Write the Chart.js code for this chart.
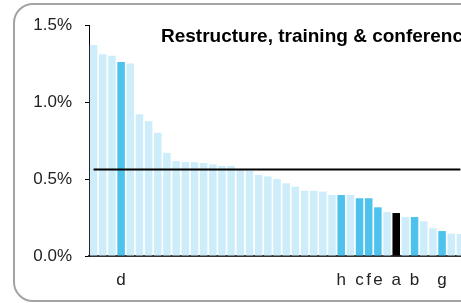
<!DOCTYPE html>
<html>
<head>
<meta charset="utf-8">
<script src="https://cdn.jsdelivr.net/npm/chart.js@4"></script>
<style>
html, body { margin: 0; padding: 0; overflow: hidden; background: #fff; }
#frame {
    position: absolute; left: 13px; top: 3px;
    width: 520px; height: 299px; box-sizing: border-box;
    border: 2px solid #a3a3a3; border-radius: 20px;
}
#wrap { position: absolute; left: 0; top: 0; }
</style>
</head>
<body>
<div id="frame"></div>
<div id="wrap"><canvas id="costChart" width="480" height="303"></canvas></div>
<script>
// bar values in percent, sorted as in the picture
var values = [1.37, 1.31, 1.30, 1.26, 1.25, 0.92, 0.875, 0.80, 0.67, 0.617,
    0.61, 0.608, 0.604, 0.595, 0.584, 0.584, 0.56, 0.555, 0.526, 0.517,
    0.50, 0.472, 0.45, 0.424, 0.424, 0.418, 0.396, 0.396, 0.396, 0.375,
    0.375, 0.316, 0.286, 0.279, 0.253, 0.253, 0.225, 0.18, 0.162, 0.145, 0.143];
var labels = ['', '', '', 'd', '', '', '', '', '', '',
    '', '', '', '', '', '', '', '', '', '',
    '', '', '', '', '', '', '', 'h', '', 'c',
    'f', 'e', '', 'a', '', 'b', '', '', 'g', '', ''];
var highlighted = ['b', 'c', 'd', 'e', 'f', 'g', 'h'];
var selected = 'a';
var average = 0.562;
var yTicks = [0, 0.5, 1.0, 1.5];
var title = 'Restructure, training & conference';

var font = '"Liberation Sans", Arial, sans-serif';

var colors = labels.map(function (l) {
    if (l === selected) return '#000000';
    if (highlighted.indexOf(l) >= 0) return '#4cc2ec';
    return '#cdedfa';
});

// average line + title drawn on top of the bars
var overlay = {
    id: 'overlay',
    afterDatasetsDraw: function (chart) {
        var c = chart.ctx, x = chart.scales.x, y = chart.scales.y;
        var py = y.getPixelForValue(average);
        c.save();
        c.strokeStyle = '#000';
        c.lineWidth = 2;
        c.beginPath();
        c.moveTo(x.getPixelForValue(0), py);
        c.lineTo(x.getPixelForValue(labels.length - 1), py);
        c.stroke();
        c.fillStyle = '#000';
        c.font = 'bold 19px ' + font;
        c.textBaseline = 'middle';
        c.fillText(title, chart.chartArea.left + 72, 37);
        c.restore();
    }
};

var ctx = document.getElementById('costChart').getContext('2d');
var chart = new Chart(ctx, {
    type: 'bar',
    data: {
        labels: labels,
        datasets: [{
            data: values,
            backgroundColor: colors,
            barPercentage: 0.82,
            categoryPercentage: 1.0
        }]
    },
    options: {
        responsive: false,
        animation: false,
        layout: { padding: { top: 25, right: 15, left: 0, bottom: 0 } },
        plugins: { legend: { display: false }, tooltip: { enabled: false } },
        scales: {
            x: {
                grid: { display: true, drawOnChartArea: false, drawTicks: false },
                border: { color: '#333', width: 2 },
                ticks: {
                    autoSkip: false, maxRotation: 0, padding: 14,
                    color: '#222', font: { family: font, size: 17 }
                },
                afterFit: function (s) { s.height = 47; }
            },
            y: {
                min: 0, max: 1.5,
                afterBuildTicks: function (s) {
                    s.ticks = yTicks.map(function (v) { return { value: v }; });
                },
                grid: { drawOnChartArea: false, drawTicks: true, tickLength: 4, color: '#000' },
                border: { color: '#000', width: 1 },
                ticks: {
                    padding: 13, color: '#222',
                    font: { family: font, size: 17 },
                    callback: function (v) { return v.toFixed(1) + '%'; }
                },
                afterFit: function (s) { s.width = 89; }
            }
        }
    },
    plugins: [overlay]
});
</script>
</body>
</html>
